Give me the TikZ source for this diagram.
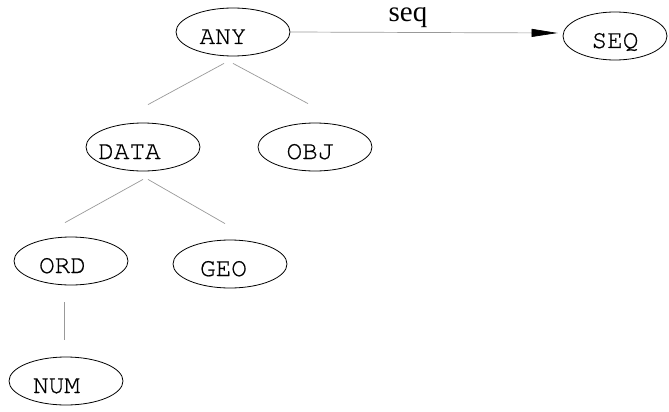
\documentclass[tikz,border=0pt]{standalone}
\usepackage{fontspec}
\setmainfont{Liberation Serif}
\setmonofont[FakeBold=0.6]{TeX Gyre Cursor}
\usetikzlibrary{arrows.meta,shapes.geometric}
\begin{document}
\begin{tikzpicture}[x=1pt,y=-1pt,
  typenode/.style={draw=black, line width=0.8pt, ellipse, minimum width=114pt, minimum height=48pt, inner sep=0pt,
    text height=24pt, text depth=0pt,
    font=\ttfamily\fontsize{26}{26}\selectfont},
  treeedge/.style={draw=black!40, line width=0.7pt},
  seqedge/.style={draw=black!40, line width=0.7pt, -{Triangle[length=26pt,width=8pt,fill=black,color=black]}},
  edgelabel/.style={font=\rmfamily\fontsize{29}{29}\selectfont, anchor=base, inner sep=0pt}
]
\useasboundingbox (0,0) rectangle (669,412);
\node[typenode] (ANY) at (233,32) {\hspace*{-20pt}ANY};
\node[typenode, minimum width=104pt] (SEQ) at (615,36) {SEQ};
\node[typenode] (DATA) at (143,147) {\hspace*{-27pt}DATA};
\node[typenode] (OBJ) at (315,147) {\hspace*{-10pt}OBJ};
\node[typenode] (ORD) at (71,261) {\hspace*{-17pt}ORD};
\node[typenode] (GEO) at (230,264) {\hspace*{-13pt}GEO};
\node[typenode] (NUM) at (66,381) {\hspace*{-19pt}NUM};

\draw[treeedge] ([shift={(-9,7)}]ANY.south) -- ([shift={(5,-18)}]DATA.north);
\draw[treeedge] ([shift={(0,7)}]ANY.south) -- ([shift={(-7,-19)}]OBJ.north);
\draw[treeedge] ([shift={(0,8)}]DATA.south) -- ([shift={(-6,-14)}]ORD.north);
\draw[treeedge] ([shift={(5,8)}]DATA.south) -- ([shift={(-5,-16)}]GEO.north);
\draw[treeedge] ([shift={(-7,17)}]ORD.south) -- ([shift={(-2,-17)}]NUM.north);

\draw[seqedge] (ANY.east) -- ([shift={(-5,-3)}]SEQ.west);
\node[edgelabel] (seqlabel) at (408,22) {seq};
\end{tikzpicture}
\end{document}
